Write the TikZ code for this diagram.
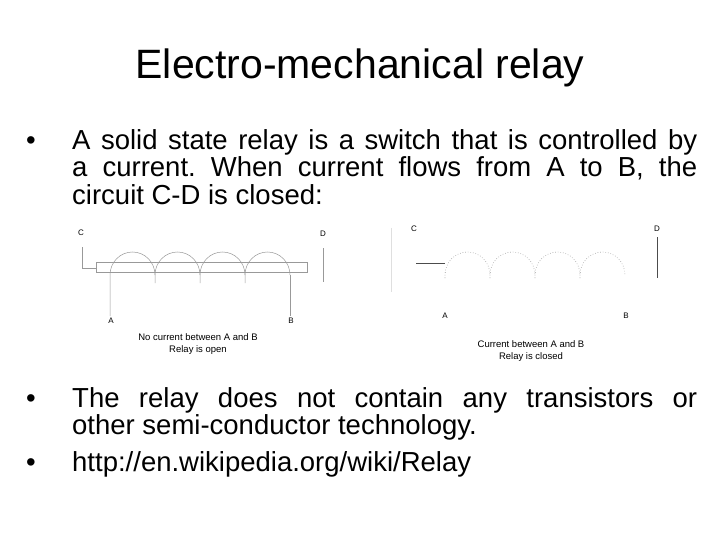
\documentclass[tikz,border=0pt]{standalone}
\usepackage{fontspec}
\setmainfont{Liberation Sans}
\begin{document}
\frenchspacing
\begin{tikzpicture}[x=1pt,y=-1pt,
  txt/.style={anchor=base west,inner sep=0pt},
  lab/.style={font=\fontsize{8}{8}\selectfont,inner sep=0pt},
  captxt/.style={font=\fontsize{9.5}{12}\selectfont,align=center,inner sep=0pt},
  wire/.style={draw=gray!80,line width=0.5pt},
  dwire/.style={draw=gray!80,line width=0.6pt,dotted}]
\useasboundingbox (0,0) rectangle (720,540);
\fill[white] (0,0) rectangle (720,540);
\node (title) at (360,68) {\fontsize{41}{48}\selectfont Electro-mechanical relay};
\def\bl#1#2{\node[txt] at (26,#2) {\fontsize{27.5}{30}\selectfont •};}
\newcommand\jl[2]{\node[txt] at (72,#1) {\fontsize{27.5}{30}\selectfont\makebox[625pt][s]{#2}};}
\newcommand\nl[2]{\node[txt] at (72,#1) {\fontsize{27.5}{30}\selectfont #2};}
\bl{}{150}
\jl{150}{A solid state relay is a switch that is controlled by}
\jl{177}{a current. When current flows from A to B, the}
\nl{205}{circuit C-D is closed:}
\bl{}{407}
\jl{407}{The relay does not contain any transistors or}
\nl{434}{other semi-conductor technology.}
\bl{}{471}
\nl{471}{http://en.wikipedia.org/wiki/Relay}
% left figure
\node[lab] (c1) at (81,233) {C};
\node[lab] (d1) at (323,234) {D};
\node[lab] (a1) at (111,321) {A};
\node[lab] (b1) at (291,321) {B};
\draw[wire] (82,247) -- (82,268) -- (96,268);
\draw[wire] (96,262) rectangle (307,272);
\draw[wire] (323,248) -- (323,282);
\draw[wire] (110,316) -- (110,275) arc[start angle=180,end angle=360,x radius=22.5,y radius=23];
\foreach \s in {155,200,245} {
  \draw[wire] (\s,283) -- (\s,275) arc[start angle=180,end angle=360,x radius=22.5,y radius=23];}
\draw[wire] (290,275) -- (290,316);
\node[captxt] (cap1) at (198,344) {No current between A and B\\Relay is open};
% separator faint
\draw[gray!25] (391,228) -- (391,292);
% right figure
\node[lab] (c2) at (414,229) {C};
\node[lab] (d2) at (657,229) {D};
\node[lab] (a2) at (445,316) {A};
\node[lab] (b2) at (626,316) {B};
\draw[wire,draw=gray!60!black] (416,263) -- (445,263);
\draw[wire,draw=gray!60!black] (657,237) -- (657,278);
\foreach \s in {445,490,535,580} {
  \draw[dwire] (\s,278) -- (\s,275) arc[start angle=180,end angle=360,x radius=22.5,y radius=23];}
\node[captxt] (cap2) at (531,351) {Current between A and B\\Relay is closed};
\end{tikzpicture}
\end{document}
